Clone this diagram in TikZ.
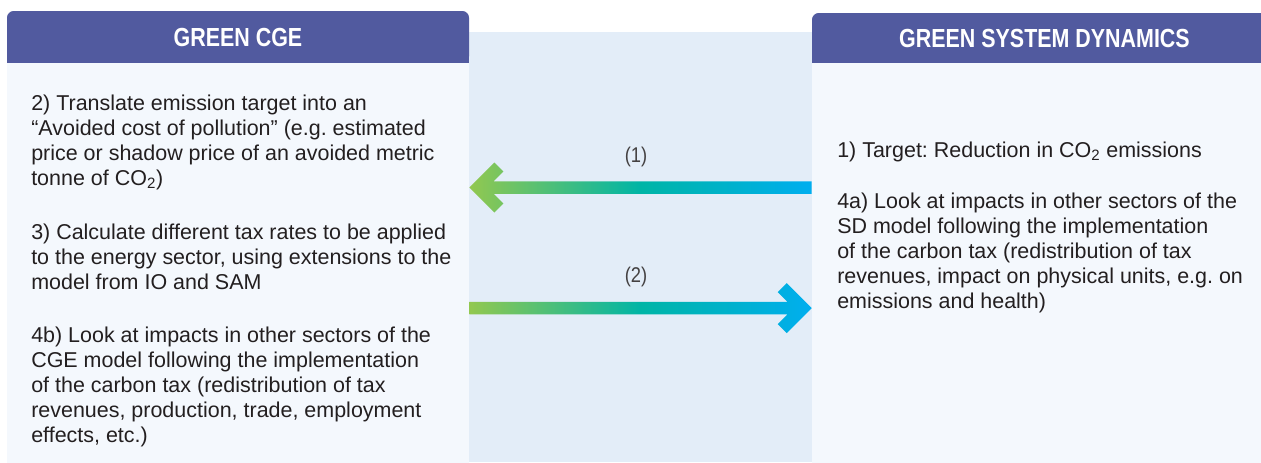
\documentclass[tikz,border=0pt]{standalone}
\usepackage{fontspec}
\setmainfont{Liberation Sans}
\newfontfamily\headfont[FakeStretch=0.82]{Liberation Sans}
\newfontfamily\numfont[FakeStretch=0.86]{Liberation Sans}
\usetikzlibrary{positioning,fit,calc}
\definecolor{gcgeHead}{RGB}{81, 90, 159}
\definecolor{gcgePanel}{RGB}{244, 248, 253}
\definecolor{gcgeBand}{RGB}{227, 237, 248}
\definecolor{gcgeText}{RGB}{35, 31, 32}
\definecolor{gcgeGreen}{RGB}{146, 200, 80}
\definecolor{gcgeTeal}{RGB}{0, 181, 166}
\definecolor{gcgeBlue}{RGB}{0, 174, 239}
\frenchspacing

\begin{document}
\begin{tikzpicture}[
  x=0.75pt, y=-0.75pt,
  head/.style={fill=gcgeHead, rounded corners=5pt, inner sep=0pt, text=white,
               font=\headfont\bfseries\fontsize{19.6}{22}\selectfont},
  panel/.style={fill=gcgePanel, inner sep=0pt},
  para/.style={anchor=base west, align=left, inner sep=0pt, text=gcgeText,
               font=\fontsize{16.1}{18.75}\selectfont},
  num/.style={anchor=base, inner sep=0pt, text=gcgeText!85,
              font=\numfont\fontsize{16}{18}\selectfont},
  flow/.style={left color=gcgeGreen, right color=gcgeBlue, middle color=gcgeTeal}
]
\useasboundingbox (0,0) rectangle (1261,462);
\clip (0,0) rectangle (1261,462);
\fill[gcgeBand] (469,32) rectangle (812,462);
\node[head, minimum width=346.5pt, minimum height=39pt] (cge) at (238,37) {GREEN CGE};
\node[head, minimum width=348.75pt, minimum height=37.5pt] (sd) at (1044.5,38) {GREEN SYSTEM DYNAMICS};
\node[panel, fit={(7,55) (469,470)}] (cgebody) {};
\node[panel, fit={(812,55) (1277,470)}] (sdbody) {};
\fill[gcgeHead] (cgebody.north west) rectangle (cge.south east);
\fill[gcgeHead] (sdbody.north west) rectangle (sd.south east);
% green cge side
\node[para] (cgestep2) at (31,185) {2) Translate emission target into an\\“Avoided cost of pollution” (e.g. estimated\\price or shadow price of an avoided metric\\tonne of CO\textsubscript{2})};
\node[para] (cgestep3) at (31,289) {3) Calculate different tax rates to be applied\\to the energy sector, using extensions to the\\model from IO and SAM};
\node[para] (cgestep4) at (31,442) {4b) Look at impacts in other sectors of the\\CGE model following the implementation\\of the carbon tax (redistribution of tax\\revenues, production, trade, employment\\effects, etc.)};
% system dynamics side
\node[para] (sdstep1) at (837,157) {1) Target: Reduction in CO\textsubscript{2} emissions};
\node[para] (sdstep4) at (837,308) {4a) Look at impacts in other sectors of the\\SD model following the implementation\\of the carbon tax (redistribution of tax\\revenues, impact on physical units, e.g. on\\emissions and health)};
% links
\coordinate (flow1l) at (cgebody.east |- 0,187.5);
\coordinate (flow1r) at (sdbody.west |- 0,187.5);
\coordinate (flow2l) at (cgebody.east |- 0,308);
\coordinate (flow2r) at (sdbody.west |- 0,308);
\shade[flow] (flow1l) -- ++(25,-25) -- ++(9,9) -- ++(-9.75,9.75) -- ($(flow1r)+(0,-6.25)$)
  -- ($(flow1r)+(0,6.25)$) -- ($(flow1l)+(24.25,6.25)$) -- ++(9.75,9.75) -- ++(-9,9) -- cycle;
\shade[flow] (flow2r) -- ++(-25,-25) -- ++(-9,9) -- ++(9.75,9.75) -- ($(flow2l)+(0,-6.25)$)
  -- ($(flow2l)+(0,6.25)$) -- ($(flow2r)+(-24.25,6.25)$) -- ++(-9.75,9.75) -- ++(9,9) -- cycle;
\node[num] (flowlab1) at (636,162) {(1)};
\node[num] (flowlab2) at (636,282) {(2)};
\end{tikzpicture}
\end{document}
